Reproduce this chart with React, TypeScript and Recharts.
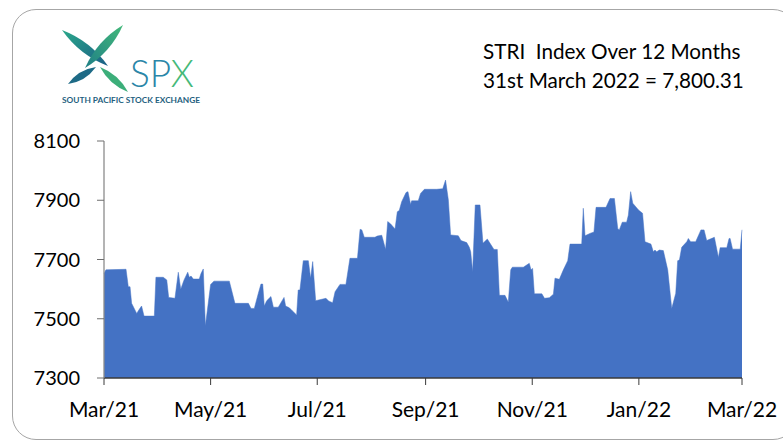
import React from "react"
import { AreaChart, Area, XAxis, YAxis } from "recharts"

// days since 1 Mar 2021
const days = [
  0, 1.1, 12.6, 13.9, 14.9, 15.8, 18.7, 20.2, 21.5, 22.9, 28.8, 29.7, 33.9, 35.9, 37, 40.6,
  42.5, 43.9, 45.8, 47.9, 48.8, 49.8, 51.1, 54.5, 55.5, 56.8, 58, 61, 62.9, 71.7, 74.9, 82.6,
  84.1, 86, 88.3, 89.8, 90.8, 91.7, 93.1, 95.5, 96.9, 99.7, 103, 103.9, 106, 107.7, 110.2, 111.1,
  112.1, 114, 116.9, 118.2, 119.4, 121.1, 127, 128.5, 130.8, 132.2, 135, 138.4, 140.7, 145,
  146.5, 147.5, 148.9, 155, 156.3, 158.9, 161.1, 162.3, 164, 166.5, 167.8, 168.9, 170.3, 172.8,
  173.9, 175.4, 176, 179.8, 181.1, 183.3, 190.3, 193.8, 195.4, 197, 198.3, 202.7, 204.2, 207.5,
  209, 209.8, 210.9, 212.4, 215.1, 216.8, 219.3, 223.1, 225, 226.2, 229.4, 231.3, 232.7, 233.6,
  239.9, 243.3, 244.3, 245.2, 246.2, 250.5, 252, 254.8, 257.1, 258, 260.5, 262.8, 265.3, 266.6,
  273.3, 274.2, 275.2, 278, 280.3, 281.5, 287.2, 289.5, 292, 293.9, 294.8, 296.5, 299, 300,
  301.3, 302.5, 305.8, 308.1, 309.5, 312.9, 314.3, 315.2, 316.2, 317.7, 320, 322.5, 324.8, 327.1,
  328.2, 329.2, 330.5, 333.4, 334.3, 335.6, 338.5, 341.5, 343.3, 344.8, 349.2, 351.5, 352.5, 356.3,
  357.6, 358.2, 359.6, 364, 365,
]

const values = [
  7653, 7665, 7667, 7608, 7608, 7552, 7518, 7532, 7543, 7509, 7509, 7640, 7640, 7631, 7572, 7569,
  7657, 7600, 7631, 7657, 7640, 7644, 7634, 7634, 7653, 7668, 7476, 7616, 7627, 7627, 7552, 7552,
  7535, 7535, 7586, 7617, 7617, 7543, 7561, 7575, 7539, 7539, 7572, 7543, 7537, 7527, 7513, 7597,
  7597, 7696, 7696, 7637, 7693, 7561, 7569, 7560, 7554, 7591, 7616, 7616, 7704, 7704,
  7802, 7800, 7775, 7775, 7779, 7782, 7734, 7828, 7820, 7803, 7861, 7865, 7895, 7926,
  7929, 7886, 7898, 7898, 7923, 7937, 7937, 7939, 7968, 7901, 7783, 7780, 7764, 7757,
  7741, 7726, 7659, 7884, 7884, 7755, 7769, 7734, 7734, 7579, 7579, 7556, 7665, 7674,
  7674, 7687, 7665, 7670, 7584, 7584, 7569, 7571, 7583, 7637, 7633, 7665, 7696, 7752,
  7752, 7873, 7780, 7788, 7793, 7876, 7876, 7906, 7906, 7805, 7800, 7826, 7826, 7850,
  7929, 7890, 7867, 7856, 7760, 7752, 7726, 7732, 7726, 7732, 7730, 7665, 7535, 7586,
  7696, 7698, 7741, 7760, 7771, 7760, 7760, 7800, 7800, 7764, 7775, 7707, 7740, 7740,
  7771, 7771, 7735, 7735, 7800.31,
]

const monthTicks = [0, 61, 122, 184, 245, 306, 365]
const monthLabels = ["Mar/21", "May/21", "Jul/21", "Sep/21", "Nov/21", "Jan/22", "Mar/22"]
const valueTicks = [7300, 7500, 7700, 7900, 8100]

const data = days.map((d, i) => ({ day: d, value: values[i] }))

const FONT = "Lato, 'Open Sans', sans-serif"

const Logo = () => (
  <svg width={160} height={90} style={{ position: "absolute", left: 50, top: 20 }}>
    <defs>
      <linearGradient id="teal" x1="0" y1="0" x2="1" y2="1">
        <stop offset="0%" stopColor="#2aa88a" />
        <stop offset="100%" stopColor="#1b5f86" />
      </linearGradient>
      <linearGradient id="green" x1="1" y1="0" x2="0" y2="1">
        <stop offset="0%" stopColor="#43b97a" />
        <stop offset="100%" stopColor="#1f7f86" />
      </linearGradient>
    </defs>
    {/* top-left blade */}
    <path d="M12 10 Q29.5 35 58 46 Q40.5 21 12 10 Z" fill="url(#teal)" />
    {/* top-right blade */}
    <path d="M73 5 Q60.7 32.5 35 48 Q47.3 20.5 73 5 Z" fill="url(#green)" />
    {/* bottom-left blade */}
    <path d="M46 47 Q35.6 61.5 18 64 Q28.4 49.5 46 47 Z" fill="#1d6a86" />
    {/* bottom-right blade */}
    <path d="M50 47 Q59.3 64.7 78 72 Q68.7 54.3 50 47 Z" fill="#3cae7a" />
    <text x={80} y={67} fontFamily={FONT} fontWeight={300} fontSize={37} fill="#2a86a8">
      SP<tspan fill="#45b978">X</tspan>
    </text>
    <text
      x={12}
      y={83}
      fontFamily={FONT}
      fontWeight={700}
      fontSize={8}
      fill="#1f5f80"
      textLength={138}
      lengthAdjust="spacingAndGlyphs"
    >
      SOUTH PACIFIC STOCK EXCHANGE
    </text>
  </svg>
)

export default function App() {
  return (
    <div
      style={{
        position: "absolute",
        left: 0,
        top: 0,
        width: 783,
        height: 441,
        overflow: "hidden",
        background: "#fff",
        fontFamily: FONT,
      }}
    >
      <div
        style={{
          position: "absolute",
          left: 12,
          top: 9,
          width: 785,
          height: 431,
          border: "1px solid #a6a6a6",
          borderRadius: 24,
          boxSizing: "border-box",
        }}
      />
      <Logo />
      <div
        style={{
          position: "absolute",
          left: 483,
          top: 37,
          fontSize: 20.7,
          lineHeight: "29px",
          color: "#000",
          whiteSpace: "pre",
        }}
      >
        <div>{"STRI  Index Over 12 Months"}</div>
        <div>{"31st March 2022 = 7,800.31"}</div>
      </div>
      <div style={{ position: "absolute", left: 0, top: 0 }}>
        <AreaChart
          width={783}
          height={441}
          data={data}
          margin={{ top: 141, right: 41, bottom: 33, left: 44 }}
        >
          <XAxis
            dataKey="day"
            type="number"
            domain={[0, 365]}
            ticks={monthTicks}
            tickFormatter={(v: number) => monthLabels[monthTicks.indexOf(v)] ?? ""}
            height={30}
            tickSize={7}
            tickMargin={17}
            axisLine={{ stroke: "#3a3a3a", strokeWidth: 1.3 }}
            tickLine={{ stroke: "#3a3a3a" }}
            tick={{ fill: "#000", fontSize: 21, fontFamily: FONT }}
            interval={0}
          />
          <YAxis
            type="number"
            domain={[7300, 8100]}
            ticks={valueTicks}
            width={60}
            tickSize={7}
            tickMargin={17}
            axisLine={{ stroke: "#8c8c8c", strokeWidth: 1.3 }}
            tickLine={{ stroke: "#6e6e6e" }}
            tick={{ fill: "#000", fontSize: 20, fontFamily: FONT }}
            interval={0}
          />
          <Area
            type="linear"
            dataKey="value"
            stroke="#4472C4"
            strokeWidth={0.5}
            fill="#4472C4"
            fillOpacity={1}
            isAnimationActive={false}
            dot={false}
            activeDot={false}
          />
        </AreaChart>
      </div>
    </div>
  )
}
